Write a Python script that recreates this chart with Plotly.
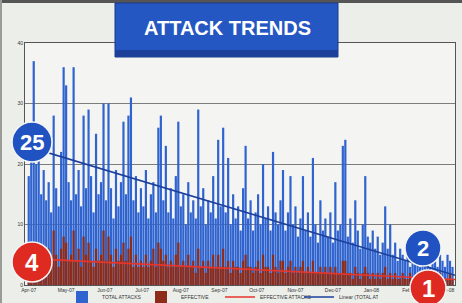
import plotly.graph_objects as go
import pandas as pd

# ---- data (2-day buckets starting 1 Apr 2007) ----
total_attacks = [
    18, 22, 37, 20, 26, 15, 19, 14, 17, 12, 28, 16, 13, 22, 36,
    33, 17, 14, 36, 15, 19, 13, 28, 16, 29, 18, 12, 25, 15, 17,
    30, 14, 30, 16, 11, 19, 13, 17, 27, 15, 28, 31, 14, 18, 12, 16,
    13, 19, 11, 15, 17, 12, 26, 28, 14, 23, 12, 16, 11, 18, 27,
    13, 15, 10, 17, 12, 14, 11, 29, 13, 16, 10, 14, 12, 18, 11,
    24, 13, 26, 12, 21, 10, 15, 11, 13, 9, 16, 23, 11, 14, 9,
    12, 15, 10, 20, 11, 13, 9, 22, 12, 10, 14, 19, 9, 12, 18,
    10, 13, 8, 11, 18, 9, 12, 8, 21, 10, 7, 14, 9, 11, 8,
    12, 7, 17, 9, 10, 23, 24, 8, 11, 7, 14, 9, 6, 10, 18,
    8, 7, 9, 6, 8, 5, 7, 13, 6, 10, 5, 7, 4, 6, 5,
    4, 6, 3, 5, 4, 7, 3, 5, 4, 6, 3, 5, 4, 3, 5,
    4, 3, 5, 4, 3,
]
effective = [
    5, 4, 7, 3, 6, 4, 5, 3, 6, 4, 9, 5, 3, 6, 8,
    7, 4, 5, 9, 4, 6, 3, 8, 5, 7, 4, 3, 6, 4, 5,
    9, 4, 8, 5, 3, 6, 4, 5, 7, 4, 6, 8, 3, 5, 3, 4,
    3, 5, 3, 4, 6, 3, 7, 6, 4, 5, 3, 4, 3, 5, 7,
    3, 4, 3, 5, 3, 4, 2, 6, 3, 4, 2, 4, 3, 5, 3,
    5, 3, 6, 3, 4, 2, 4, 3, 3, 2, 4, 5, 3, 3, 2,
    3, 4, 2, 5, 3, 3, 2, 5, 3, 2, 4, 4, 2, 3, 4,
    2, 3, 2, 3, 4, 2, 3, 2, 4, 2, 2, 3, 2, 3, 2,
    3, 2, 3, 2, 2, 4, 4, 2, 2, 1, 3, 2, 1, 2, 3,
    2, 1, 2, 1, 2, 1, 2, 3, 1, 2, 1, 2, 1, 1, 2,
    1, 1, 2, 1, 1, 2, 1, 1, 1, 2, 1, 1, 1, 1, 2,
    1, 1, 1, 2, 1,
]
trend_dates = ["2007-03-29", "2008-03-08"]
total_trend = [23.0, 1.6]
effective_trend = [4.4, 0.9]
y_ticks = [0, 10, 20, 30, 40]
title_text = "ATTACK TRENDS"
badges = ["25", "4", "2", "1"]

n = min(len(total_attacks), len(effective))
dates = pd.date_range("2007-04-01", periods=n, freq="2D")

W, H = 462, 303
L, R, T, B = 25, 7, 43, 18
pw, ph = W - L - R, H - T - B


def px(x):
    return (x - L) / pw


def py(y):
    return (H - B - y) / ph


fig = go.Figure()
fig.add_trace(go.Bar(x=dates, y=total_attacks[:n], name="TOTAL ATTACKS",
                     marker=dict(color="#2f63cf", line=dict(width=0))))
fig.add_trace(go.Bar(x=dates, y=effective[:n], name="EFFECTIVE",
                     marker=dict(color="#8e2c1a", line=dict(width=0))))
fig.add_trace(go.Scatter(x=trend_dates, y=effective_trend, mode="lines",
                         name="EFFECTIVE ATTACKS",
                         line=dict(color="#e8352c", width=1.6)))
fig.add_trace(go.Scatter(x=trend_dates, y=total_trend, mode="lines",
                         name="Linear (TOTAL ATTACKS)",
                         line=dict(color="#1c3f9c", width=1.6)))

shapes = []
# top frame line
shapes.append(dict(type="rect", xref="paper", yref="paper",
                   x0=px(0), x1=px(W), y0=py(3), y1=py(0),
                   fillcolor="#555555", line=dict(width=0)))
# left frame line
shapes.append(dict(type="rect", xref="paper", yref="paper",
                   x0=px(0), x1=px(2), y0=py(H), y1=py(0),
                   fillcolor="#9a9a96", line=dict(width=0)))
# title box
shapes.append(dict(type="rect", xref="paper", yref="paper",
                   x0=px(115), x1=px(338), y0=py(57), y1=py(3),
                   fillcolor="#2557c2", line=dict(color="#1a3a8a", width=1)))
shapes.append(dict(type="rect", xref="paper", yref="paper",
                   x0=px(115), x1=px(338), y0=py(57), y1=py(50),
                   fillcolor="#1c3f99", line=dict(width=0)))

badge_specs = [
    ("25", 32, 142, 20, "#2152c2", 22),
    ("4", 32, 262, 20, "#df2a22", 24),
    ("2", 423, 248, 18, "#2152c2", 22),
    ("1", 428, 288, 18, "#df2a22", 24),
]
annotations = [dict(text=f"<b>{title_text}</b>", xref="paper", yref="paper",
                    x=px(227), y=py(28), xanchor="center", yanchor="middle",
                    showarrow=False,
                    font=dict(family="Liberation Sans, Arial", size=20, color="white"))]
for lbl, cx, cy, r, col, fs in badge_specs:
    shapes.append(dict(type="circle", xref="paper", yref="paper",
                       x0=px(cx - r), x1=px(cx + r), y0=py(cy + r), y1=py(cy - r),
                       fillcolor=col, line=dict(color="#f4f4f4", width=1.5)))
    annotations.append(dict(text=f"<b>{lbl}</b>", xref="paper", yref="paper",
                            x=px(cx), y=py(cy), xanchor="center", yanchor="middle",
                            showarrow=False,
                            font=dict(family="Liberation Sans, Arial", size=fs, color="white")))

fig.update_layout(
    width=W, height=H,
    margin=dict(l=L, r=R, t=T, b=B, autoexpand=False),
    paper_bgcolor="#eceeea",
    plot_bgcolor="#f4f5f2",
    barmode="overlay",
    bargap=0.12,
    showlegend=True,
    legend=dict(orientation="h", x=px(220), xanchor="center",
                yref="container", y=(H - 297) / H, yanchor="middle",
                font=dict(size=5, color="#333333"), bgcolor="rgba(0,0,0,0)",
                itemwidth=30, entrywidthmode="pixels", entrywidth=34),
    shapes=shapes,
    annotations=annotations,
    font=dict(family="Liberation Sans, Arial", size=5, color="#333333"),
)
fig.update_xaxes(type="date", range=trend_dates, dtick="M1", tickformat="%b-%y",
                 tickfont=dict(size=5, color="#333333"), showgrid=False,
                 showline=True, linecolor="#555555", linewidth=1, ticks="",
                 mirror=True)
fig.update_yaxes(range=[0, 40], tickvals=y_ticks, tickfont=dict(size=5, color="#333333"),
                 showgrid=True, gridcolor="#7c7c7c", gridwidth=1,
                 showline=True, linecolor="#555555", linewidth=1, mirror=True,
                 zeroline=False, ticks="")

fig.write_html("out.html", config={"displayModeBar": False},
               post_script="document.body.style.margin='0';document.body.style.overflow='hidden';")
